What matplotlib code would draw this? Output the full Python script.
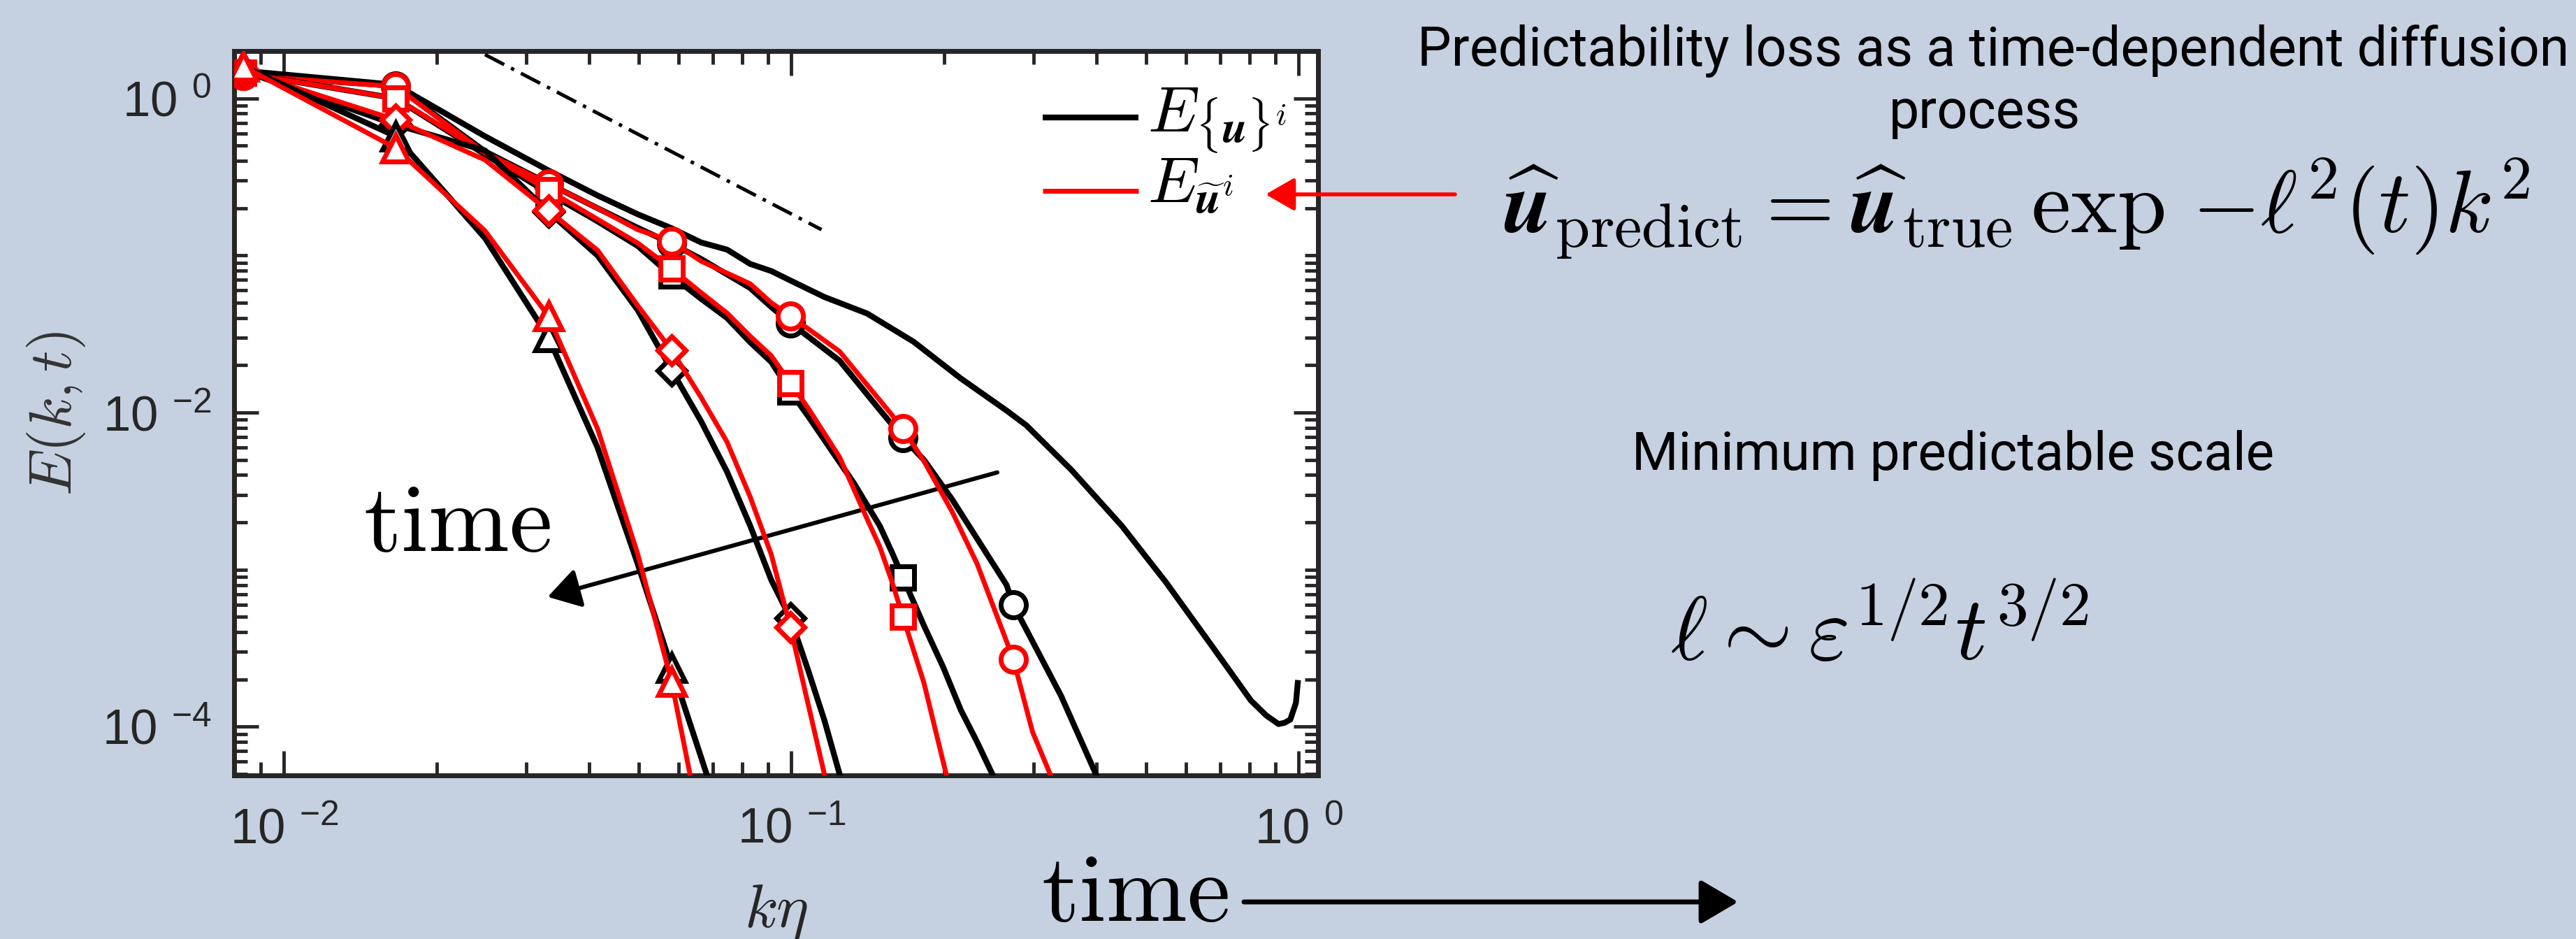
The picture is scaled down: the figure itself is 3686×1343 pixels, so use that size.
import numpy as np
import matplotlib.pyplot as plt
from matplotlib.patches import ArrowStyle
from matplotlib.ticker import FixedLocator, FixedFormatter, LogLocator, NullFormatter

plt.rcParams['font.family'] = ['Liberation Sans', 'DejaVu Sans']
plt.rcParams['mathtext.fontset'] = 'custom'
plt.rcParams['mathtext.rm'] = 'Liberation Sans'
plt.rcParams['mathtext.it'] = 'Liberation Sans:italic'
plt.rcParams['mathtext.bf'] = 'Liberation Sans:bold'

bg = '#c5d0e0'
axcol = '#262626'

eta = 0.0083  # k -> k*eta

# reference spectrum (no markers)
k_ref = [1, 2, 3, 4, 5, 6, 7, 8, 9, 10, 11, 12, 14, 17, 21, 26, 32, 35, 43, 54, 66, 82, 97, 104, 110, 113, 116, 119, 120]
E_ref = [1.5, 1.22, 0.574, 0.348, 0.241, 0.183, 0.149, 0.121, 0.109, 0.0883, 0.0796, 0.0693, 0.0544, 0.0427,
         0.0282, 0.0165, 0.0103, 0.0083, 0.0043, 0.0019, 0.00083, 0.000314, 0.000147, 0.000118, 0.000104,
         0.000106, 0.000111, 0.000142, 0.00019]

# circles
k_cb = [1, 2, 3, 4, 5, 6, 7, 8, 10, 11, 12, 15, 18, 20, 22, 25, 32, 33, 36, 41, 48, 52]
E_cb = [1.4, 1.2, 0.46, 0.287, 0.2, 0.15, 0.119, 0.095, 0.062, 0.047, 0.0372, 0.0214, 0.0104, 0.0069, 0.0050,
        0.0028, 0.0008, 0.000597, 0.00035, 0.000157, 5.0e-5, 2.6e-5]
k_cr = [1, 2, 3, 4, 5, 6, 7, 8, 10, 11, 12, 15, 19, 20, 22, 25, 28, 32, 33, 36, 39, 41]
E_cr = [1.4, 1.19, 0.45, 0.287, 0.2, 0.146, 0.123, 0.092, 0.066, 0.05, 0.0412, 0.0245, 0.0097, 0.0079, 0.0049,
        0.00234, 0.00109, 0.00035, 0.000269, 9.3e-5, 5e-5, 3e-5]

# squares
k_sb = [1, 2, 3, 4, 5, 6, 7, 8, 9, 10, 11, 12, 13, 16, 18, 19, 20, 22, 24, 26, 28, 30, 32]
E_sb = [1.45, 1.0, 0.44, 0.25, 0.165, 0.115, 0.0743, 0.053, 0.040, 0.028, 0.021, 0.0136, 0.0095, 0.00356,
        0.0019, 0.0013, 0.00089, 0.00044, 0.00024, 0.000128, 8e-5, 5e-5, 3e-5]
k_sr = [1, 2, 3, 4, 5, 6, 7, 8, 9, 10, 11, 12, 13, 15, 17, 18, 19, 20, 22, 24, 25]
E_sr = [1.45, 1.0, 0.45, 0.26, 0.17, 0.12, 0.0824, 0.058, 0.043, 0.0306, 0.023, 0.0154, 0.0107, 0.0052,
        0.0021, 0.0014, 0.00085, 0.0005, 0.00019, 6e-5, 3.5e-5]

# diamonds
k_db = [1, 2, 3, 4, 5, 6, 7, 8, 9, 10, 11, 12, 13, 14, 15, 16]
E_db = [1.5, 0.68, 0.466, 0.19, 0.1, 0.045, 0.0186, 0.0088, 0.0042, 0.0019, 0.00086, 0.00049, 0.00023,
        0.00011, 5e-5, 2.5e-5]
k_dr = [1, 2, 3, 4, 5, 6, 7, 8, 9, 10, 11, 12, 13, 14, 15]
E_dr = [1.5, 0.73, 0.406, 0.193, 0.108, 0.048, 0.0249, 0.0125, 0.0065, 0.0029, 0.00125, 0.00043, 0.00014,
        5e-5, 1.8e-5]

# triangles
k_tb = [1, 2, 3, 4, 5, 6, 7, 8, 9]
E_tb = [1.6, 0.574, 0.129, 0.0302, 0.006, 0.00109, 0.000238, 6.4e-5, 2e-5]
k_tr = [1, 2, 3, 4, 5, 6, 7, 8]
E_tr = [1.6, 0.483, 0.1436, 0.0412, 0.0079, 0.00126, 0.000193, 2.2e-5]

marker_k = [1, 2, 4, 7, 12, 20, 33]

# -5/3 guide
kol_x = [0.0249, 0.1147]
kol_E = [1.9, 0.146]

xticks = [1e-2, 1e-1, 1e0]
xticklabels = ['10 $^{-2}$', '10 $^{-1}$', '10 $^{0}$']
yticks = [1e-4, 1e-2, 1e0]
yticklabels = ['10 $^{-4}$', '10 $^{-2}$', '10 $^{0}$']

legend_labels = [r'$E_{\{\boldsymbol{u}\}^{i}}$', r'$E_{\widetilde{\boldsymbol{u}}^{i}}$']
legend_colors = ['black', 'red']

fig = plt.figure(figsize=(36.87, 13.43), dpi=100, facecolor=bg)
ax = fig.add_axes([0.0909, 0.1742, 0.4207, 0.7714])
ax.set_facecolor('white')

lw_k, lw_r = 6.0, 5.0
ax.plot(np.array(k_ref) * eta, E_ref, color='black', lw=lw_k, zorder=3)

series = [
    (k_cb, E_cb, k_cr, E_cr, 'o', 26),
    (k_sb, E_sb, k_sr, E_sr, 's', 23),
    (k_db, E_db, k_dr, E_dr, 'D', 20),
    (k_tb, E_tb, k_tr, E_tr, '^', 28),
]
z = 4
for kb, Eb, kr, Er, mk, ms in series:
    for kk, EE, col, lw in [(kb, Eb, 'black', lw_k), (kr, Er, 'red', lw_r)]:
        idx = [i for i, k in enumerate(kk) if k in marker_k]
        ax.plot(np.array(kk) * eta, EE, color=col, lw=lw, marker=mk, ms=ms, mew=5.0,
                mfc='white', mec=col, markevery=idx, zorder=z)
        z += 1

ax.plot(kol_x, kol_E, color='black', lw=3.6, ls=(0, (6.2, 2.2, 1.0, 2.2)), zorder=3)

ax.set_xscale('log')
ax.set_yscale('log')
ax.set_xlim(0.00798, 1.093)
ax.set_ylim(4.9e-5, 2.0)

ax.xaxis.set_major_locator(FixedLocator(xticks))
ax.xaxis.set_major_formatter(FixedFormatter(xticklabels))
ax.xaxis.set_minor_locator(LogLocator(base=10, subs=np.arange(2, 10)))
ax.xaxis.set_minor_formatter(NullFormatter())
ax.yaxis.set_major_locator(FixedLocator(yticks))
ax.yaxis.set_major_formatter(FixedFormatter(yticklabels))
ax.yaxis.set_minor_locator(LogLocator(base=10, subs=np.arange(1, 10), numticks=20))
ax.yaxis.set_minor_formatter(NullFormatter())

ax.tick_params(which='both', direction='in', top=True, right=True, color=axcol, width=3.5,
               labelcolor=axcol, labelsize=51)
ax.tick_params(axis='x', pad=33)
ax.tick_params(axis='y', pad=24)
ax.tick_params(which='major', length=25)
ax.tick_params(which='minor', length=14)
for sp in ax.spines.values():
    sp.set_linewidth(5)
    sp.set_color(axcol)

ax.set_xlabel(r'$k\eta$', fontsize=63, color=axcol, math_fontfamily='cm')
ax.xaxis.set_label_coords(0.5, -0.148)
ax.set_ylabel(r'$E(k,t)$', fontsize=61, color='#333333', math_fontfamily='cm', va='center')
ax.yaxis.set_label_coords(-0.164, 0.5)

# legend rows: handle line + label, in axes fractions
leg_y_line = [0.9083, 0.8069]
leg_y_text = [0.8885, 0.7905]
for lab, col, yl, yt in zip(legend_labels, legend_colors, leg_y_line, leg_y_text):
    ax.plot([0.746, 0.8343], [yl, yl], transform=ax.transAxes, color=col,
            lw=lw_k if col == 'black' else lw_r, solid_capstyle='butt', zorder=12)
    ax.text(0.8427, yt, lab, transform=ax.transAxes, fontsize=67, math_fontfamily='cm',
            ha='left', va='baseline', zorder=12)

# time arrow inside the axes
ax.annotate('', xy=(0.0331, 0.000671), xytext=(0.2547, 0.00416),
            arrowprops=dict(arrowstyle=ArrowStyle('-|>', head_length=0.4, head_width=0.246),
                            mutation_scale=70, color='black', lw=4.3, shrinkA=0, shrinkB=0))
ax.text(0.01432, 0.00132, r'$\mathrm{time}$', fontsize=100, math_fontfamily='cm',
        ha='left', va='baseline', zorder=20)

# red pointer from the legend to the model
ax.annotate('', xy=(1811 / 3687, 1 - 278 / 1343), xycoords='figure fraction',
            xytext=(2082 / 3687, 1 - 278 / 1343), textcoords='figure fraction',
            arrowprops=dict(arrowstyle=ArrowStyle('-|>', head_length=0.4, head_width=0.23),
                            mutation_scale=63, color='red', lw=4.0, shrinkA=0, shrinkB=0),
            annotation_clip=False)

tfont = dict(family=['Roboto', 'DejaVu Sans'], color='black')
fig.text(2852 / 3687, 1 - 94 / 1343, 'Predictability loss as a time-dependent diffusion',
         ha='center', va='baseline', fontsize=55.5, **tfont)
fig.text(2840 / 3687, 1 - 183 / 1343, 'process', ha='center', va='baseline', fontsize=55.5, **tfont)
fig.text(2885 / 3687, 1 - 332 / 1343,
         r'$\widehat{\boldsymbol{u}}_{\mathrm{predict}} = \widehat{\boldsymbol{u}}_{\mathrm{true}}\,\exp\,{-\ell^2}(t)k^2$',
         ha='center', va='baseline', fontsize=91, math_fontfamily='cm')
fig.text(2795 / 3687, 1 - 672 / 1343, 'Minimum predictable scale', ha='center', va='baseline',
         fontsize=55, **tfont)
fig.text(2689 / 3687, 1 - 944 / 1343, r'$\ell \sim \varepsilon^{1/2} t^{3/2}$',
         ha='center', va='baseline', fontsize=92, math_fontfamily='cm')

# time arrow along the bottom
fig.text(1490 / 3687, 1 - 1317 / 1343, r'$\mathrm{time}$', fontsize=100, math_fontfamily='cm',
         ha='left', va='baseline')
ax.annotate('', xy=(2487 / 3687, 1 - 1290 / 1343), xycoords='figure fraction',
            xytext=(1780 / 3687, 1 - 1290 / 1343), textcoords='figure fraction',
            arrowprops=dict(arrowstyle=ArrowStyle('-|>', head_length=0.4, head_width=0.235),
                            mutation_scale=83, color='black', lw=5.0, shrinkA=0, shrinkB=0),
            annotation_clip=False)

fig.savefig('out.png', dpi=100, facecolor=bg)
